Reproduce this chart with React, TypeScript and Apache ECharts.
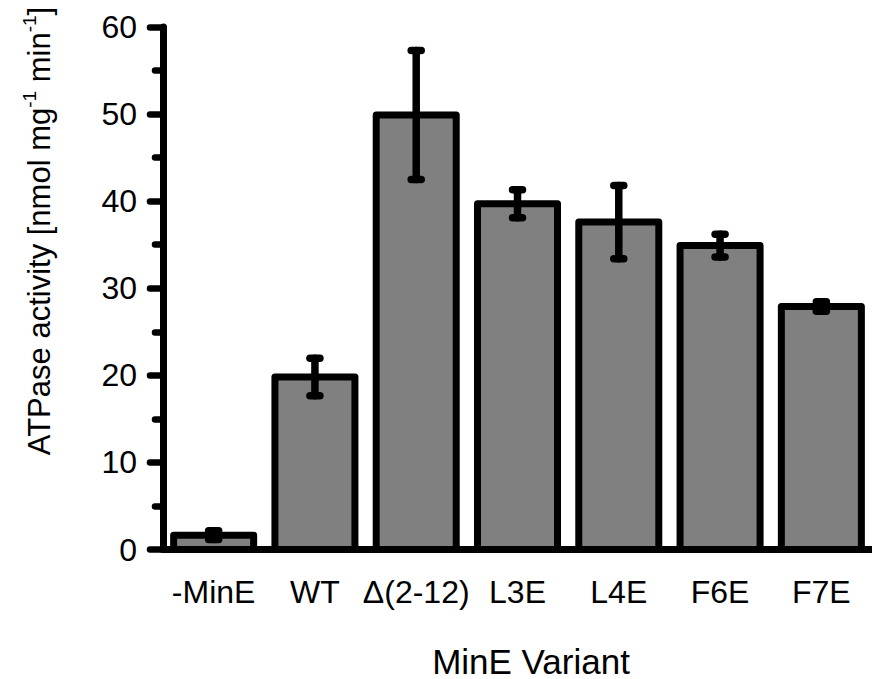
import React, { useEffect, useRef } from "react";
import * as echarts from "echarts";

const categories = ["-MinE", "WT", "Δ(2-12)", "L3E", "L4E", "F6E", "F7E"];
const activity = [1.65, 19.8, 49.9, 39.7, 37.6, 34.9, 27.9];
const errors = [0.5, 2.15, 7.4, 1.6, 4.2, 1.3, 0.55];
const yTicks = { min: 0, max: 60, interval: 10 };

const FONT = "'Liberation Sans', Arial, Helvetica, sans-serif";

export default function App() {
  const ref = useRef<HTMLDivElement>(null);
  useEffect(() => {
    if (!ref.current) return;
    const chart = echarts.init(ref.current, null, { renderer: "svg" });
    const barData = activity.map((v, i) => [i, v]);
    const errData = activity.map((v, i) => [i, v - errors[i], v + errors[i]]);
    chart.setOption({
      animation: false,
      backgroundColor: "#fff",
      grid: { left: 163, top: 27, bottom: 129.5, width: 711, containLabel: false },
      xAxis: {
        type: "category",
        data: categories,
        axisLine: { lineStyle: { color: "#000", width: 7, cap: "round" } },
        axisTick: { alignWithLabel: true, length: 12, lineStyle: { color: "#000", width: 7, cap: "round" } },
        axisLabel: { margin: 26, fontSize: 32, color: "#000", fontFamily: FONT, interval: 0 },
      },
      yAxis: {
        type: "value",
        min: yTicks.min,
        max: yTicks.max,
        interval: yTicks.interval,
        splitLine: { show: false },
        axisLine: { show: true, lineStyle: { color: "#000", width: 7, cap: "round" } },
        axisTick: { show: true, length: 13, lineStyle: { color: "#000", width: 6.5, cap: "round" } },
        minorTick: { show: true, splitNumber: 2, length: 8, lineStyle: { color: "#000", width: 6.5, cap: "round" } },
        axisLabel: { margin: 26, fontSize: 32, color: "#000", fontFamily: FONT },
      },
      graphic: [
        {
          type: "text",
          x: 37,
          y: 231,
          rotation: Math.PI / 2,
          style: {
            text: "{a|ATPase activity [nmol mg}{s|-1}{a| min}{s|-1}{a|]}",
            align: "center",
            verticalAlign: "middle",
            fill: "#000",
            rich: {
              a: { fontSize: 31, fontFamily: FONT, fill: "#000", lineHeight: 35, verticalAlign: "bottom" },
              s: { fontSize: 19, fontFamily: FONT, fill: "#000", lineHeight: 35, verticalAlign: "top" },
            },
          },
        },
        {
          type: "text",
          x: 531,
          y: 661,
          style: {
            text: "MinE Variant",
            align: "center",
            verticalAlign: "middle",
            fontSize: 35,
            fontFamily: FONT,
            fill: "#000",
          },
        },
      ],
      series: [
        {
          type: "custom",
          name: "bars",
          data: barData,
          encode: { x: 0, y: 1 },
          z: 2,
          renderItem: (params: any, api: any) => {
            const i = api.value(0);
            const top = api.coord([i, api.value(1)]);
            const base = api.coord([i, 0]);
            const w = api.size([1, 0])[0] * 0.79;
            return {
              type: "rect",
              shape: { x: top[0] - w / 2, y: top[1], width: w, height: base[1] - top[1] },
              style: { fill: "#808080", stroke: "#000", lineWidth: 7, lineJoin: "round" },
            };
          },
        },
        {
          type: "custom",
          name: "errors",
          data: errData,
          encode: { x: 0, y: [1, 2] },
          z: 5,
          renderItem: (params: any, api: any) => {
            const x = api.value(0);
            const pLo = api.coord([x, api.value(1)]);
            const pHi = api.coord([x, api.value(2)]);
            const hw = 5;
            const style = { stroke: "#000", lineWidth: 7.5, lineCap: "round", fill: "none" };
            return {
              type: "group",
              children: [
                { type: "line", shape: { x1: pHi[0], y1: pHi[1], x2: pLo[0], y2: pLo[1] }, style },
                { type: "line", shape: { x1: pHi[0] - hw, y1: pHi[1], x2: pHi[0] + hw, y2: pHi[1] }, style },
                { type: "line", shape: { x1: pLo[0] - hw, y1: pLo[1], x2: pLo[0] + hw, y2: pLo[1] }, style },
              ],
            };
          },
        },
      ],
    });
    return () => chart.dispose();
  }, []);
  return (
    <div
      ref={ref}
      style={{ position: "fixed", left: 0, top: 0, width: 872, height: 679, background: "#fff" }}
    />
  );
}
